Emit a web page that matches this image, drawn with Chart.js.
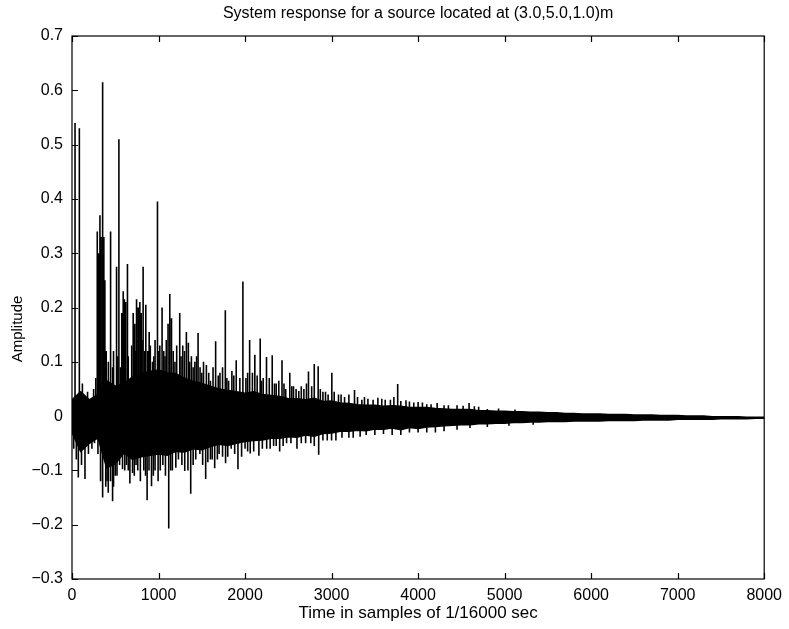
<!DOCTYPE html>
<html>
<head>
<meta charset="utf-8">
<script src="https://cdn.jsdelivr.net/npm/chart.js@4.4.1/dist/chart.umd.min.js"></script>
<style>
    html, body { margin: 0; padding: 0; background: #fff; }
    #wrap { width: 789px; height: 629px; }
</style>
</head>
<body>
<div id="wrap"><canvas id="response" width="789" height="629"></canvas></div>
<script>
// Envelope of the dense part of the response, one reading every 100 samples
const envSamples = [
    0, 100, 200, 300, 400, 500, 600, 700, 800, 900,
    1000, 1100, 1200, 1300, 1400, 1500, 1600, 1700, 1800, 1900,
    2000, 2100, 2200, 2300, 2400, 2500, 2600, 2700, 2800, 2900,
    3000, 3100, 3200, 3300, 3400, 3500, 3600, 3700, 3800, 3900,
    4000, 4100, 4200, 4300, 4400, 4500, 4600, 4700, 4800, 4900,
    5000, 5100, 5200, 5300, 5400, 5500, 5600, 5700, 5800, 5900,
    6000, 6100, 6200, 6300, 6400, 6500, 6600, 6700, 6800, 6900,
    7000, 7100, 7200, 7300, 7400, 7500, 7600, 7700, 7800, 7900, 8000
];
const envHigh = [
    0.030, 0.045, 0.030, 0.040, 0.065, 0.055, 0.060, 0.072, 0.078, 0.082,
    0.085, 0.080, 0.078, 0.070, 0.064, 0.060, 0.055, 0.050, 0.047, 0.045,
    0.042, 0.045, 0.040, 0.038, 0.036, 0.032, 0.032, 0.030, 0.033, 0.027,
    0.028, 0.024, 0.023, 0.021, 0.020, 0.020, 0.018, 0.019, 0.018, 0.016,
    0.016, 0.016, 0.014, 0.013, 0.012, 0.012, 0.012, 0.010, 0.010, 0.009,
    0.009, 0.008, 0.008, 0.007, 0.007, 0.006, 0.006, 0.005, 0.005, 0.004,
    0.004, 0.004, 0.003, 0.003, 0.003, 0.002, 0.002, 0.002, 0.001, 0.001,
    0.001, 0.000, 0.000, 0.000, -0.001, -0.001, -0.001, -0.001, -0.002, -0.002, -0.002
];
const envLow = [
    -0.030, -0.065, -0.050, -0.040, -0.095, -0.088, -0.068, -0.080, -0.075, -0.072,
    -0.070, -0.072, -0.065, -0.066, -0.060, -0.062, -0.056, -0.052, -0.054, -0.050,
    -0.047, -0.045, -0.044, -0.041, -0.041, -0.038, -0.039, -0.035, -0.037, -0.032,
    -0.031, -0.028, -0.028, -0.026, -0.027, -0.024, -0.024, -0.022, -0.025, -0.021,
    -0.023, -0.020, -0.019, -0.018, -0.017, -0.016, -0.016, -0.014, -0.014, -0.013,
    -0.013, -0.012, -0.012, -0.011, -0.011, -0.010, -0.010, -0.010, -0.009, -0.009,
    -0.009, -0.009, -0.008, -0.008, -0.008, -0.008, -0.007, -0.007, -0.007, -0.007,
    -0.006, -0.006, -0.006, -0.006, -0.006, -0.005, -0.005, -0.005, -0.005, -0.004, -0.004
];

// Individual reflections standing out of the envelope (sample index, amplitude)
const spikeSamples = [
    35, 85, 292, 310, 323, 335, 354, 368, 380, 395, 446, 470, 515, 542, 575, 592,
    605, 620, 641, 670, 707, 725, 746, 765, 784, 800, 822, 853, 875, 892, 930, 960,
    988, 1015, 1041, 1075, 1110, 1130, 1150, 1190, 1245, 1280, 1322, 1345, 1380, 1420,
    1457, 1500, 1553, 1600, 1660, 1710, 1772, 1810, 1848, 1898, 1975, 2010, 2053, 2085,
    2113, 2175, 2210, 2248, 2314, 2360, 2427, 2470, 2517, 2560, 2621, 2680, 2733, 2800,
    2845, 2900, 2960, 3003, 3080, 3150, 3265, 3350, 3420, 3535, 3620, 3764, 3860, 3950,
    4100, 4300, 4589, 4800,
    20, 73, 150, 230, 330, 354, 390, 419, 445, 469, 500, 584, 630, 669, 700, 740,
    790, 830, 868, 919, 960, 995, 1050, 1118, 1160, 1230, 1303, 1372, 1430, 1478,
    1545, 1600, 1649, 1700, 1775, 1840, 1918, 2000, 2060, 2160, 2250, 2330, 2400,
    2480, 2600, 2700, 2851, 2950, 3050, 3200, 3400, 3700, 4000, 4200
];
const spikeValues = [
    0.540, 0.530, 0.340, 0.300, 0.370, 0.330, 0.615, 0.330, 0.250, 0.120, 0.340, 0.090, 0.275, 0.510, 0.190, 0.230,
    0.215, 0.210, 0.280, 0.060, 0.190, 0.170, 0.215, 0.200, 0.210, 0.190, 0.275, 0.205, 0.120, 0.155, 0.100, 0.140,
    0.395, 0.130, 0.200, 0.110, 0.170, 0.225, 0.180, 0.100, 0.190, 0.130, 0.155, 0.135, 0.110, 0.100,
    0.153, 0.080, 0.094, 0.065, 0.138, 0.080, 0.195, 0.065, 0.083, 0.103, 0.248, 0.070, 0.140, 0.080,
    0.113, 0.143, 0.070, 0.109, 0.112, 0.060, 0.103, 0.050, 0.080, 0.055, 0.046, 0.050, 0.082, 0.096,
    0.092, 0.045, 0.040, 0.080, 0.040, 0.035, 0.048, 0.030, 0.032, 0.034, 0.030, 0.059, 0.029, 0.025,
    0.022, 0.020, 0.024, 0.013,
    -0.060, -0.113, -0.116, -0.060, -0.120, -0.150, -0.130, -0.141, -0.120, -0.157, -0.110, -0.098, -0.090, -0.124, -0.105, -0.090,
    -0.120, -0.100, -0.155, -0.129, -0.100, -0.120, -0.090, -0.207, -0.100, -0.080, -0.101, -0.143, -0.080, -0.070,
    -0.116, -0.080, -0.096, -0.070, -0.087, -0.060, -0.098, -0.060, -0.069, -0.073, -0.060, -0.055, -0.065,
    -0.050, -0.060, -0.050, -0.071, -0.045, -0.045, -0.040, -0.035, -0.035, -0.030, -0.030
];

// Short excursions that make up the ragged edge of the envelope
const minorSamples = [
    120, 180, 250, 275, 420, 480, 530, 560, 650, 690, 735, 810, 840, 905, 945, 1000,
    1060, 1090, 1170, 1210, 1260, 1300, 1360, 1400, 1440, 1480, 1520, 1580, 1630, 1690,
    1740, 1790, 1870, 1940, 2030, 2140, 2190, 2280, 2340, 2390, 2450, 2540, 2590, 2650,
    2710, 2770, 2870, 2930, 3030, 3110, 3200, 3300, 3380, 3480, 3580, 3680, 3720, 3800,
    3900, 4000, 4050, 4150, 4220, 4350, 4450, 4520, 4650, 4700, 4930, 5120,
    50, 110, 190, 260, 300, 405, 480, 520, 550, 610, 650, 720, 760, 850, 890, 940,
    1020, 1080, 1140, 1200, 1270, 1340, 1400, 1510, 1570, 1620, 1680, 1740, 1800, 1880,
    1960, 2030, 2100, 2200, 2290, 2360, 2440, 2530, 2650, 2760, 2800, 2900, 3000, 3120,
    3250, 3330, 3500, 3600, 3800, 3900, 4100, 4300, 4450, 4600, 4800, 5050, 5330
];
const minorValues = [
    0.060, 0.045, 0.050, 0.070, 0.100, 0.120, 0.110, 0.090, 0.110, 0.130, 0.120, 0.140, 0.120, 0.130, 0.110, 0.120,
    0.120, 0.140, 0.120, 0.130, 0.110, 0.120, 0.100, 0.090, 0.110, 0.090, 0.100, 0.080, 0.090, 0.075,
    0.090, 0.070, 0.075, 0.070, 0.080, 0.075, 0.065, 0.070, 0.060, 0.065, 0.060, 0.055, 0.050, 0.055,
    0.060, 0.055, 0.050, 0.045, 0.045, 0.040, 0.040, 0.035, 0.035, 0.030, 0.032, 0.030, 0.035, 0.028,
    0.027, 0.026, 0.025, 0.022, 0.024, 0.020, 0.020, 0.019, 0.018, 0.017, 0.014, 0.012,
    -0.080, -0.090, -0.070, -0.050, -0.070, -0.120, -0.130, -0.110, -0.090, -0.100, -0.100, -0.110, -0.100, -0.110, -0.100, -0.110,
    -0.100, -0.110, -0.100, -0.095, -0.090, -0.100, -0.090, -0.090, -0.085, -0.080, -0.080, -0.075, -0.075, -0.070,
    -0.075, -0.065, -0.065, -0.060, -0.060, -0.055, -0.055, -0.050, -0.050, -0.050, -0.055, -0.045, -0.045, -0.040,
    -0.040, -0.038, -0.035, -0.033, -0.035, -0.030, -0.030, -0.028, -0.025, -0.022, -0.020, -0.018, -0.016
];

const xTicks = [0, 1000, 2000, 3000, 4000, 5000, 6000, 7000, 8000];
const yTicks = [-0.3, -0.2, -0.1, 0, 0.1, 0.2, 0.3, 0.4, 0.5, 0.6, 0.7];

const FONT = '"Liberation Sans", Arial, Helvetica, sans-serif';

// vertical segment from zero to each value, broken by a null point
function toSegments(samples, values) {
    const pts = [];
    samples.forEach((t, i) => {
        pts.push({ x: t, y: 0 }, { x: t, y: values[i] }, { x: t, y: null });
    });
    return pts;
}

// frame, inward tick marks and the text placed outside the axes
const framePlugin = {
    id: 'frame',
    afterDraw(chart) {
        const { ctx, chartArea: a, scales } = chart;
        ctx.save();
        ctx.strokeStyle = '#000';
        ctx.lineWidth = 1.2;
        ctx.strokeRect(a.left, a.top, a.right - a.left, a.bottom - a.top);
        ctx.beginPath();
        xTicks.forEach(v => {
            const px = Math.round(scales.x.getPixelForValue(v)) + 0.5;
            ctx.moveTo(px, a.bottom); ctx.lineTo(px, a.bottom - 6);
            ctx.moveTo(px, a.top); ctx.lineTo(px, a.top + 6);
        });
        yTicks.forEach(v => {
            const py = Math.round(scales.y.getPixelForValue(v)) + 0.5;
            ctx.moveTo(a.left, py); ctx.lineTo(a.left + 6, py);
        });
        ctx.stroke();

        ctx.fillStyle = '#000';
        ctx.textAlign = 'center';
        ctx.textBaseline = 'middle';
        ctx.font = '16px ' + FONT;
        ctx.fillText('System response for a source located at (3.0,5.0,1.0)m', (a.left + a.right) / 2, 14);

        ctx.font = '15px ' + FONT;
        ctx.translate(18, 329);
        ctx.rotate(-Math.PI / 2);
        ctx.fillText('Amplitude', 0, 0);
        ctx.restore();
    }
};

const lineStyle = { borderColor: '#000', pointRadius: 0, fill: false };

new Chart(document.getElementById('response'), {
    type: 'line',
    data: {
        datasets: [
            {
                ...lineStyle,
                data: envSamples.map((t, i) => ({ x: t, y: envHigh[i] })),
                backgroundColor: '#000',
                borderWidth: 1.5,
                fill: '+1'
            },
            {
                ...lineStyle,
                data: envSamples.map((t, i) => ({ x: t, y: envLow[i] })),
                borderWidth: 1.5
            },
            {
                ...lineStyle,
                data: toSegments(minorSamples, minorValues),
                borderWidth: 1.6,
                spanGaps: false
            },
            {
                ...lineStyle,
                data: toSegments(spikeSamples, spikeValues),
                borderWidth: 1.6,
                spanGaps: false
            }
        ]
    },
    options: {
        responsive: false,
        animation: false,
        layout: { padding: { top: 36, right: 23, left: 0, bottom: 0 } },
        plugins: { legend: { display: false }, tooltip: { enabled: false } },
        scales: {
            x: {
                type: 'linear',
                min: 0,
                max: 8000,
                afterBuildTicks: scale => { scale.ticks = xTicks.map(v => ({ value: v })); },
                afterFit: scale => { scale.height = 50; },
                grid: { display: false, drawTicks: false },
                border: { display: false },
                ticks: {
                    color: '#000',
                    font: { family: FONT, size: 16 },
                    padding: 7,
                    maxRotation: 0,
                    callback: v => String(v)
                },
                title: {
                    display: true,
                    text: 'Time in samples of 1/16000 sec',
                    color: '#000',
                    font: { family: FONT, size: 17 },
                    padding: { top: 0, bottom: 5 }
                }
            },
            y: {
                min: -0.3,
                max: 0.7,
                afterBuildTicks: scale => { scale.ticks = yTicks.map(v => ({ value: v })); },
                afterFit: scale => { scale.width = 72; },
                grid: { display: false, drawTicks: false },
                border: { display: false },
                ticks: {
                    color: '#000',
                    font: { family: FONT, size: 16 },
                    padding: 9,
                    callback: v => {
                        const r = Math.round(v * 10) / 10;
                        return r === 0 ? '0' : r.toFixed(1).replace('-', '\u2212');
                    }
                }
            }
        }
    },
    plugins: [framePlugin]
});
</script>
</body>
</html>
